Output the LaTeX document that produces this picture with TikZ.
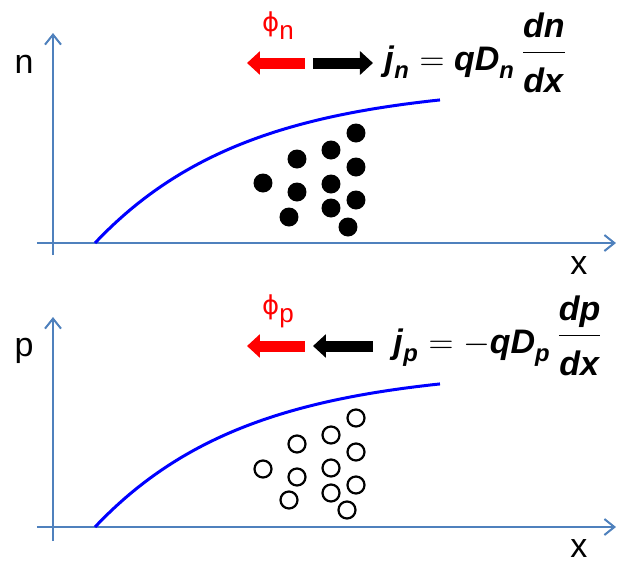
\documentclass[tikz,border=0pt]{standalone}
\usepackage{amsmath}
\usepackage{fontspec}
\setmainfont{Liberation Sans}
\newfontfamily\phifont{DejaVu Sans}
\usetikzlibrary{arrows.meta}
\definecolor{axisblue}{HTML}{4F81BD}
\definecolor{curveblue}{HTML}{0000FF}
\definecolor{fluxred}{HTML}{FF0000}
\newcommand{\bi}[1]{\textbf{\textit{#1}}}
\newcommand{\fluxphi}[1]{{\phifont ϕ}\raisebox{-4pt}{#1}}
\newcommand{\gradfrac}[2]{\raisebox{4.5pt}{$\dfrac{#1}{\rule{0pt}{17.5pt}#2}$}}

\begin{document}
\begin{tikzpicture}[x=0.5pt,y=-0.5pt,
    axis/.style={axisblue, line width=1pt, -{Straight Barb[length=5pt,width=8pt]}},
    profile/.style={curveblue, line width=1.5pt},
    flux/.style={line width=5.5pt, -{Triangle[length=6.5pt,width=11.5pt]}},
    lbl/.style={font=\fontsize{17}{20}\selectfont, anchor=base, inner sep=0pt},
    eqn/.style={font=\fontsize{17}{20}\selectfont, anchor=base west, inner sep=0pt},
    philbl/.style={fluxred, font=\fontsize{13}{16}\selectfont, anchor=base, inner sep=0pt}]
    \useasboundingbox (0,0) rectangle (618,563);

    % electron panel
    \coordinate (nbot) at (53,255);
    \coordinate (ntop) at (53,33);
    \coordinate (nleft) at (37,243);
    \coordinate (nright) at (616,243);
    \draw[axis] (nbot) -- (ntop);
    \draw[axis] (nleft) -- (nright);
    \node[lbl] (nlabel) at (24,73) {n};
    \node[lbl] (nxlabel) at (579,274) {x};
    \draw[profile] plot[domain=95:440, samples=60, smooth] (\x, {243-159*(1-exp(-(\x-95)/150))});
    \foreach \px/\py in {356/133, 331/150, 297/159, 356/167, 263/183, 331/184,
                         297/192, 356/200, 331/208, 289/217, 348/227}
        \fill (\px,\py) circle[radius=9.5];
    \coordinate (phinA) at (305,63);
    \coordinate (phinB) at (247,63);
    \coordinate (jnA) at (313,63);
    \coordinate (jnB) at (373,63);
    \draw[flux, fluxred] (phinA) -- (phinB);
    \draw[flux, black] (jnA) -- (jnB);
    \node[philbl] (phin) at (278,31) {\fluxphi{n}};
    \node[eqn] (jn) at (384,70) {$\bi{j}_{\bi{n}} = \bi{qD}_{\bi{n}}\,\gradfrac{\bi{dn}}{\bi{dx}}$};

    % hole panel
    \coordinate (pbot) at (53,541);
    \coordinate (ptop) at (53,317);
    \coordinate (pleft) at (37,527);
    \coordinate (pright) at (616,527);
    \draw[axis] (pbot) -- (ptop);
    \draw[axis] (pleft) -- (pright);
    \node[lbl] (plabel) at (24,356) {p};
    \node[lbl] (pxlabel) at (579,557) {x};
    \draw[profile] plot[domain=95:440, samples=60, smooth] (\x, {527-159*(1-exp(-(\x-95)/150))});
    \foreach \px/\py in {356/418, 331/435, 297/444, 356/452, 263/469, 331/468,
                         297/477, 356/485, 331/493, 289/500, 347/510}
        \draw[line width=1.1pt] (\px,\py) circle[radius=8.5];
    \coordinate (phipA) at (305,346);
    \coordinate (phipB) at (247,346);
    \coordinate (jpA) at (373,346);
    \coordinate (jpB) at (313,346);
    \draw[flux, fluxred] (phipA) -- (phipB);
    \draw[flux, black] (jpA) -- (jpB);
    \node[philbl] (phip) at (278,314) {\fluxphi{p}};
    \node[eqn] (jp) at (393,353) {$\bi{j}_{\bi{p}} = -\bi{qD}_{\bi{p}}\,\gradfrac{\bi{dp}}{\bi{dx}}$};
\end{tikzpicture}
\end{document}
